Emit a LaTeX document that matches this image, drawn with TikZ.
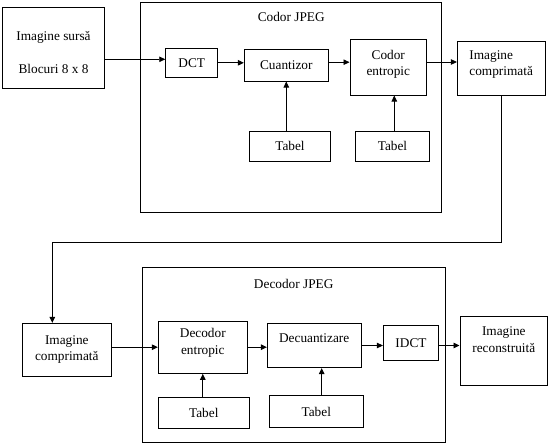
\documentclass[tikz,border=0pt]{standalone}
\usepackage{fontspec}
\setmainfont{Liberation Serif}
\usetikzlibrary{arrows.meta, positioning}

\begin{document}
\begin{tikzpicture}[
    x=1pt, y=-1pt,
    every node/.style={font=\fontsize{13.3}{16.5}\selectfont},
    box/.style={rectangle, draw, line width=0.9pt, inner sep=2pt, align=center, text height=9.5pt},
    wh/.style 2 args={minimum width=#1pt, minimum height=#2pt},
    lines/.style={text height=#1, text depth=3pt},
    frame/.style={rectangle, draw, line width=0.9pt},
    title/.style={inner sep=0pt, text height=9.5pt},
    arrow/.style={-{Triangle[length=6pt, width=5.5pt]}, line width=0.9pt}
]
    \useasboundingbox (0,0) rectangle (550,447);

    % codor
    \node[frame, wh={301}{210}] (enc) at (291.2,107.7) {};
    \node[title, below=10pt of enc.north] (enctitle) {Codor JPEG};
    \node[box, wh={101.6}{81}, lines=55.4pt] (src) at (53.5,47.8) {Imagine surs\u{a}\\[17.3pt]Blocuri 8 x 8};
    \node[box, wh={52}{29}] (dct) at (191.7,62.8) {DCT};
    \node[box, wh={84}{31.7}] (cuant) at (286.3,65.2) {Cuantizor};
    \node[box, wh={76.7}{55.7}, lines=20pt] (codor) at (388.3,67.2) {Codor\\entropic};
    \node[box, wh={81.3}{30.7}] (tab1) at (290,146.3) {Tabel};
    \node[box, wh={73.7}{30.7}] (tab2) at (392.5,146.3) {Tabel};
    \node[box, wh={87.7}{54}, lines=18.4pt, align=left] (cmp1) at (501.2,68) {Imagine\\comprimat\u{a}};

    % decodor
    \node[frame, wh={302.7}{175.4}] (dec) at (293.7,355) {};
    \node[title, below=11.5pt of dec.north] (dectitle) {Decodor JPEG};
    \node[box, wh={89}{52.7}, lines=25pt] (cmp2) at (66.8,349.7) {Imagine\\comprimat\u{a}};
    \node[box, wh={89}{52.3}, lines=16.6pt] (decent) at (202.8,347.2) {Decodor\\entropic};
    \node[box, wh={93.7}{44.3}, text depth=15.9pt] (decuant) at (314.2,345.5) {Decuantizare};
    \node[box, wh={55.3}{35}] (idct) at (411,342.5) {IDCT};
    \node[box, wh={87.7}{69}, lines=6.6pt] (recon) at (503.8,350.5) {Imagine\\reconstruit\u{a}};
    \node[box, wh={91}{31}] (tab3) at (203.8,412.8) {Tabel};
    \node[box, wh={94}{32}] (tab4) at (316.3,411.7) {Tabel};

    \coordinate (in1) at ([yshift=3.5pt]dct.west);
    \coordinate (c2) at ([yshift=3pt]cuant.east);
    \coordinate (c3) at ([yshift=5.2pt]codor.east);
    \coordinate (t4) at ([xshift=5.4pt]tab4.north);
    \coordinate (bend) at (52.3,242.3);

    \draw[arrow] (src.east |- in1) -- (in1);
    \draw[arrow] (dct.east) -- (dct.east -| cuant.west);
    \draw[arrow] (c2) -- (c2 -| codor.west);
    \draw[arrow] (c3) -- (c3 -| cmp1.west);
    \draw[arrow] (cuant.south |- tab1.north) -- (cuant.south);
    \draw[arrow] ([xshift=1.8pt]tab2.north) -- ([xshift=1.8pt]tab2.north |- codor.south);
    \draw[arrow] (cmp1.south) |- (bend) -- (bend |- cmp2.north);

    \draw[arrow] (cmp2.east |- decent.west) -- (decent.west);
    \draw[arrow] (decent.east) -- (decent.east -| decuant.west);
    \draw[arrow] (decuant.east) -- (decuant.east -| idct.west);
    \draw[arrow] (idct.east |- decuant.east) -- (recon.west |- decuant.east);
    \draw[arrow] (decent.south |- tab3.north) -- (decent.south);
    \draw[arrow] (t4) -- (t4 |- decuant.south);
\end{tikzpicture}
\end{document}
